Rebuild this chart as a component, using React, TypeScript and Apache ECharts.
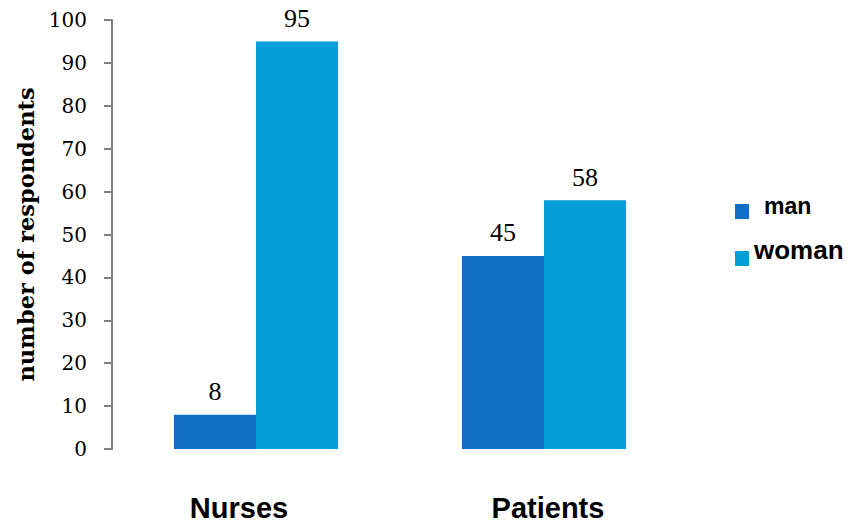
import React, { useEffect, useRef } from "react";
import * as echarts from "echarts";

const categories = ["Nurses", "Patients"];
const manValues = [8, 45];
const womanValues = [95, 58];
const yTicks = { min: 0, max: 100, interval: 10 };

const MAN_COLOR = "#126EC4";
const WOMAN_COLOR = "#049FD9";
const SERIF = "'Liberation Serif', 'DejaVu Serif', serif";
const SANS = "'Liberation Sans', Arial, sans-serif";

export default function App() {
  const ref = useRef<HTMLDivElement>(null);

  useEffect(() => {
    document.body.style.margin = "0";
    if (!ref.current) return;
    const chart = echarts.init(ref.current, null, { renderer: "svg" });

    const valueLabel = {
      show: true,
      position: "top" as const,
      distance: 10,
      color: "#000",
      fontFamily: SERIF,
      fontSize: 26,
    };

    // legend label sits a little above its swatch
    const legendText = (size: number, lift: number, indent: number) => ({
      fontFamily: SANS,
      fontWeight: "bold",
      fontSize: size,
      color: "#000",
      rich: {
        t: {
          fontFamily: SANS,
          fontWeight: "bold",
          fontSize: size,
          color: "#000",
          padding: [0, 0, lift, indent],
        },
      },
    });

    chart.setOption({
      animation: false,
      backgroundColor: "#fff",
      grid: { left: 112, right: 169, top: 20, bottom: 72, containLabel: false },
      legend: [
        {
          data: ["man"],
          left: 730,
          top: 189,
          icon: "rect",
          itemWidth: 14,
          itemHeight: 15,
          formatter: "{t|{name}}",
          textStyle: legendText(23, 12, 10),
        },
        {
          data: ["woman"],
          left: 730,
          top: 232,
          icon: "rect",
          itemWidth: 14,
          itemHeight: 15,
          formatter: "{t|{name}}",
          textStyle: legendText(26, 17, 0),
        },
      ],
      xAxis: {
        type: "category",
        data: [
          { value: categories[0], textStyle: { padding: [0, 34, 0, 0] } },
          { value: categories[1], textStyle: { padding: [0, 0, 0, 8] } },
        ],
        axisLine: { show: false },
        axisTick: { show: false },
        axisLabel: {
          margin: 44,
          color: "#000",
          fontFamily: SANS,
          fontWeight: "bold",
          fontSize: 29,
        },
      },
      yAxis: {
        type: "value",
        min: yTicks.min,
        max: yTicks.max,
        interval: yTicks.interval,
        name: "number of respondents",
        nameLocation: "middle",
        nameGap: 72,
        nameTextStyle: {
          fontFamily: "'DejaVu Serif', serif",
          fontWeight: "bold",
          fontSize: 22.5,
          color: "#000",
        },
        axisLine: { show: true, lineStyle: { color: "#808080", width: 2 } },
        axisTick: { show: true, length: 8, lineStyle: { color: "#808080", width: 2 } },
        splitLine: { show: false },
        axisLabel: {
          margin: 25,
          color: "#000",
          fontFamily: "'DejaVu Serif', serif",
          fontSize: 20,
        },
      },
      series: [
        {
          name: "man",
          type: "bar",
          data: manValues,
          itemStyle: { color: MAN_COLOR },
          barGap: "0%",
          barCategoryGap: "43%",
          label: valueLabel,
        },
        {
          name: "woman",
          type: "bar",
          data: womanValues,
          itemStyle: { color: WOMAN_COLOR },
          barGap: "0%",
          barCategoryGap: "43%",
          label: valueLabel,
        },
      ],
    });

    return () => chart.dispose();
  }, []);

  return <div ref={ref} style={{ width: 857, height: 522 }} />;
}
